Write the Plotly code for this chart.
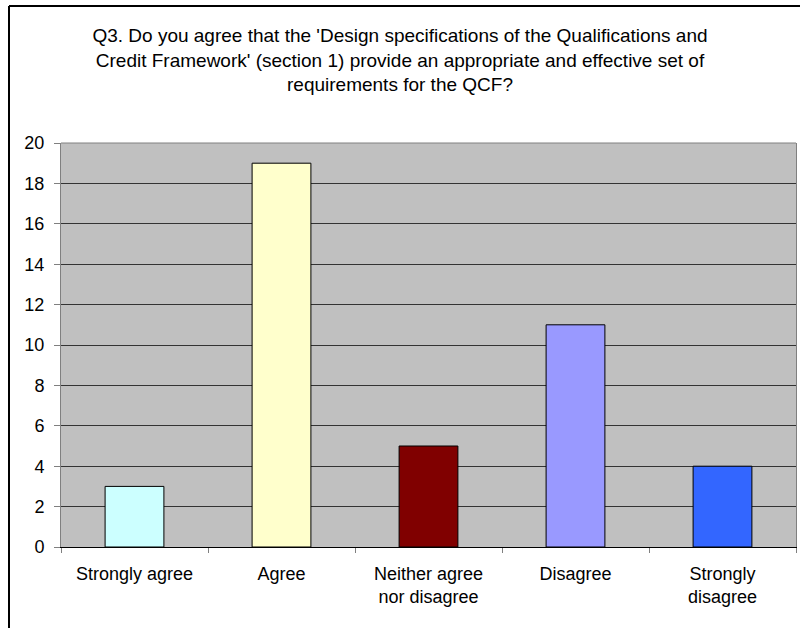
import plotly.graph_objects as go

# Survey responses for Q3
categories = ["Strongly agree", "Agree", "Neither agree<br>nor disagree", "Disagree", "Strongly<br>disagree"]
counts = [3, 19, 5, 11, 4]
bar_colors = ["#CCFFFF", "#FFFFCC", "#800000", "#9999FF", "#3366FF"]

title_text = (
    "Q3. Do you agree that the 'Design specifications of the Qualifications and<br>"
    "Credit Framework' (section 1) provide an appropriate and effective set of<br>"
    "requirements for the QCF?"
)

FONT = "Liberation Sans, Arial, sans-serif"

fig = go.Figure(
    go.Bar(
        x=categories,
        y=counts,
        width=0.4,
        marker=dict(color=bar_colors, line=dict(color="black", width=1)),
        hoverinfo="x+y",
    )
)

fig.update_layout(
    width=800,
    height=628,
    margin=dict(l=61, r=4, t=143, b=81),
    paper_bgcolor="white",
    plot_bgcolor="#C0C0C0",
    showlegend=False,
    font=dict(family=FONT, size=18, color="black"),
    title=dict(
        text=title_text,
        x=0.5,
        xanchor="center",
        y=1 - 42 / 628,
        yanchor="top",
        font=dict(family=FONT, size=19, color="black"),
    ),
    shapes=[
        # outer chart frame, drawn in pixel units from the plot's top-left corner
        dict(type="line", xref="paper", yref="paper",
             xsizemode="pixel", ysizemode="pixel", xanchor=0, yanchor=1,
             x0=9 - 61, x1=9 - 61, y0=-520, y1=137,
             line=dict(color="black", width=2)),
        dict(type="line", xref="paper", yref="paper",
             xsizemode="pixel", ysizemode="pixel", xanchor=0, yanchor=1,
             x0=9 - 61, x1=760, y0=137, y1=137,
             line=dict(color="black", width=2)),
        # plot area top border
        dict(type="line", xref="paper", yref="paper", x0=0, x1=1, y0=1, y1=1,
             line=dict(color="#808080", width=1)),
    ],
)

fig.update_yaxes(
    range=[0, 20],
    dtick=2,
    showgrid=True,
    gridcolor="#333333",
    gridwidth=1,
    zeroline=False,
    showline=True,
    linecolor="#808080",
    linewidth=1,
    mirror=True,
    ticks="outside",
    ticklen=6,
    tickcolor="#808080",
    ticklabelstandoff=6,
    tickfont=dict(family=FONT, size=18, color="black"),
)

fig.update_xaxes(
    showgrid=False,
    showline=True,
    linecolor="black",
    linewidth=1,
    ticks="outside",
    tickson="boundaries",
    ticklen=5,
    tickcolor="#808080",
    ticklabelstandoff=10,
    tickfont=dict(family=FONT, size=18, color="black"),
)

# drop the default page margin so the chart sits at the window origin
fig.write_html(
    "out.html",
    config={"displayModeBar": False},
    post_script="document.body.style.margin='0';",
)
